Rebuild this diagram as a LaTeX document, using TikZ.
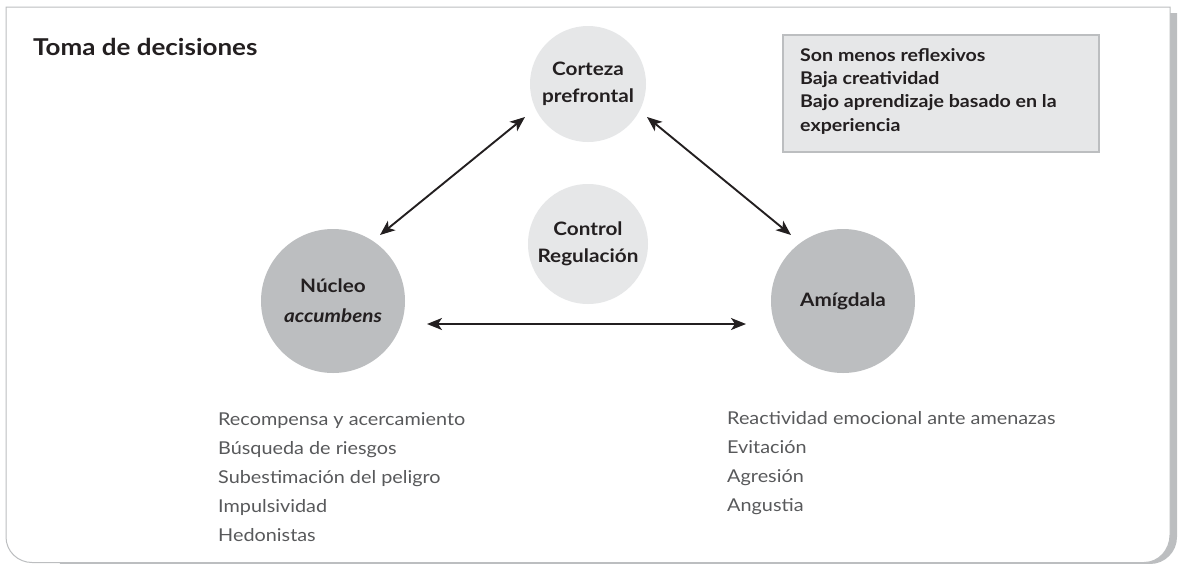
\documentclass[tikz,border=0pt]{standalone}
\usepackage{fontspec}
\setmainfont{Lato}[FakeStretch=1.12]
\usetikzlibrary{arrows.meta,calc}
\definecolor{dgray}{HTML}{BCBEC0}
\definecolor{lgray}{HTML}{E6E7E8}
\definecolor{ink}{HTML}{231F20}
\definecolor{soft}{HTML}{58595B}
\tikzset{
  bigc/.style={circle,fill=dgray,minimum size=144pt,inner sep=0pt,align=center,font=\bfseries\fontsize{18.5}{30}\selectfont,text=ink},
  smallc/.style={circle,fill=lgray,minimum size=116pt,inner sep=0pt,align=center,font=\bfseries\fontsize{18.5}{26.5}\selectfont,text=ink},
  link/.style={line width=1.9pt,draw=ink,{Stealth[length=15pt,width=12pt,inset=4pt]}-{Stealth[length=15pt,width=12pt,inset=4pt]}},
  listtxt/.style={anchor=north west,align=left,inner sep=0pt,text=soft,font=\fontsize{17.7}{29.2}\selectfont},
}
\begin{document}
\begin{tikzpicture}[x=1pt,y=-1pt]
\useasboundingbox (0,0) rectangle (1179,563);
% frame with shadow
\path[fill=dgray] (12,13) -- (1177,13) -- (1177,537) to[out=-90,in=0] (1150,564) -- (60,564) -- cycle;
\draw[dgray,line width=1pt,fill=white] (6,7) -- (1170,7) -- (1170,535) to[out=-90,in=0] (1144,562.5) -- (32,562.5) to[out=180,in=-90] (6,537) -- cycle;
% title
\node[anchor=base west,inner sep=0pt,text=ink,font=\bfseries\fontsize{23.2}{26}\selectfont] (title) at (33,55) {Toma de decisiones};
% circles
\node[smallc] (cort) at (588,84) {Corteza\\prefrontal};
\node[smallc,minimum size=120pt] (ctrl) at (588,244) {Control\\Regulación};
\node[bigc] (nuc) at (333,301) {Núcleo\\\textit{accumbens}};
\node[bigc] (amy) at (843,301) {Amígdala};
% arrows
\draw[link] ([shift={(47,-66)}]nuc.center) -- ([shift={(-63,33)}]cort.center);
\draw[link] ([shift={(59,33)}]cort.center) -- ([shift={(-52,-66)}]amy.center);
\draw[link] ([shift={(94,23)}]nuc.center) -- ([shift={(-97,23)}]amy.center);
% box
\node[draw=dgray,line width=2pt,fill=lgray,anchor=north west,minimum width=316pt,minimum height=117pt,inner sep=0pt] (box) at (782,34) {};
\node[anchor=north west,align=left,inner sep=0pt,text=ink,font=\bfseries\fontsize{17.5}{23.3}\selectfont] (boxtxt) at (800,48) {Son menos reflexivos\\Baja creatividad\\Bajo aprendizaje basado en la\\experiencia};
% lists
\node[listtxt] (leftlist) at (218,412) {Recompensa y acercamiento\\Búsqueda de riesgos\\Subestimación del peligro\\Impulsividad\\Hedonistas};
\node[listtxt] (rightlist) at (727,411) {Reactividad emocional ante amenazas\\Evitación\\Agresión\\Angustia};
\end{tikzpicture}
\end{document}
